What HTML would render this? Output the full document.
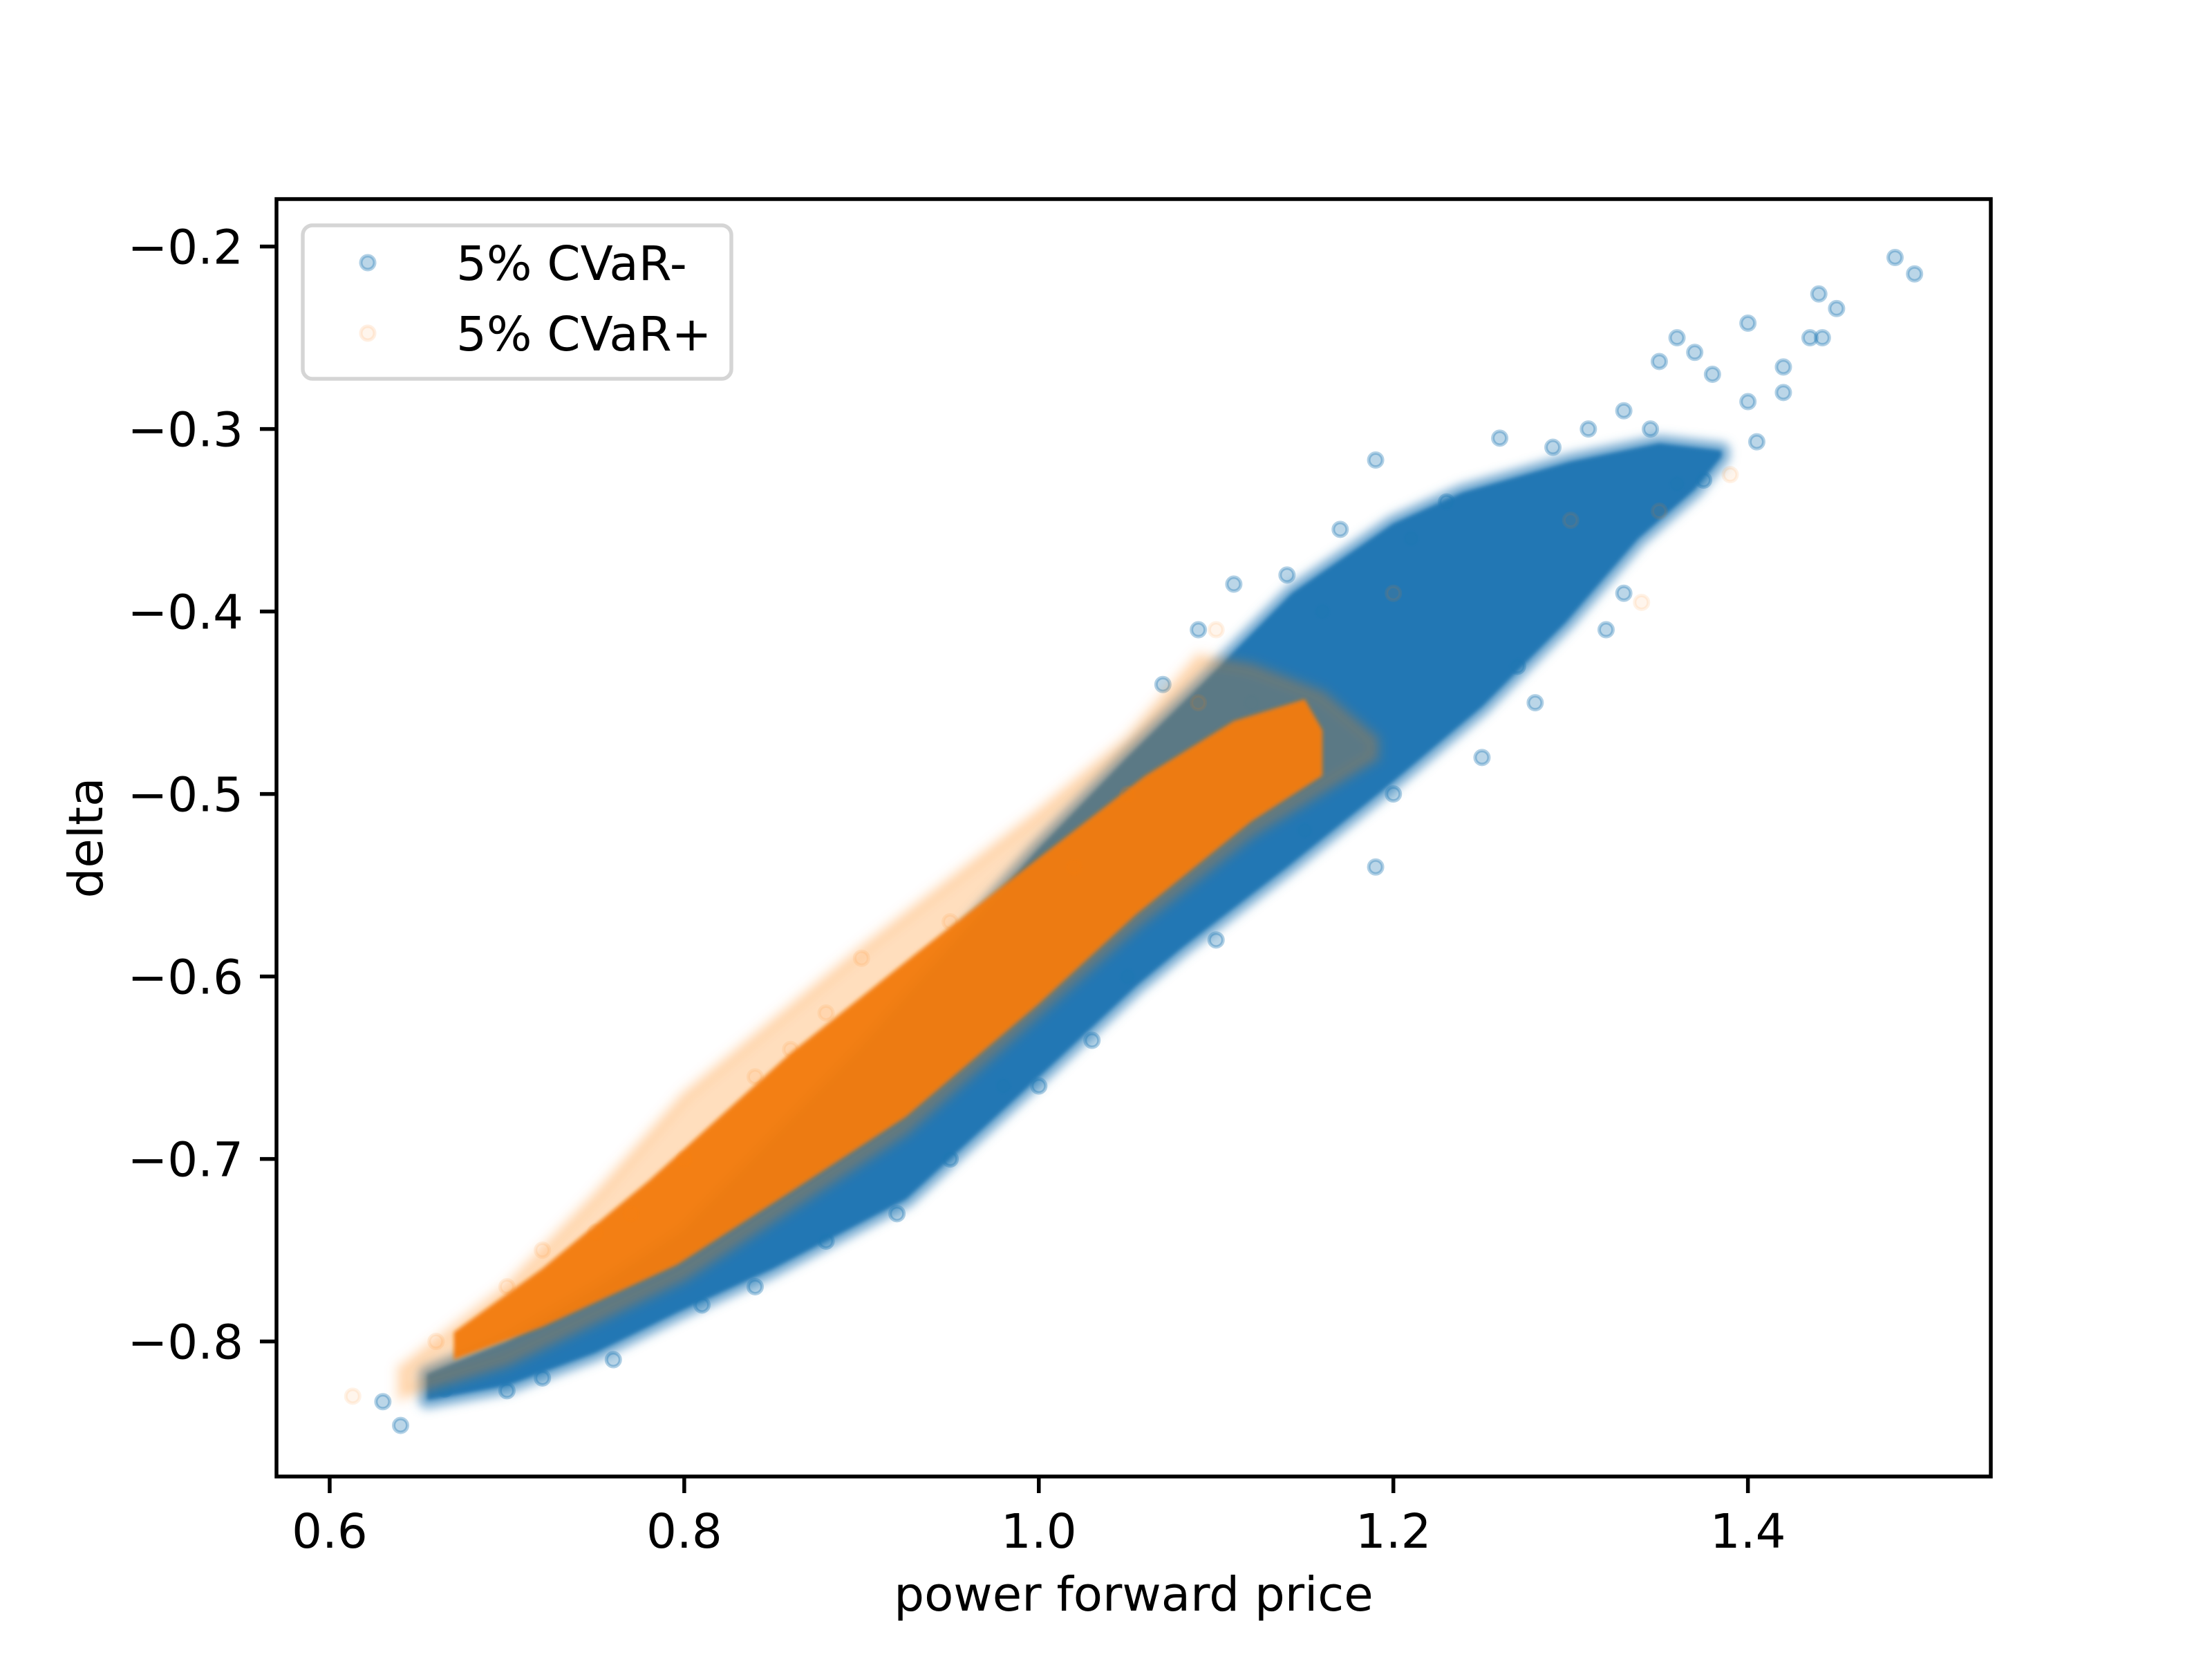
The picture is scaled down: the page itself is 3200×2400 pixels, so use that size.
<!DOCTYPE html>
<html><head><meta charset="utf-8"><style>
body{margin:0;background:#fff}
svg{display:block}
text{font-family:"DejaVu Sans","Liberation Sans",sans-serif;font-size:69px;fill:#000}
</style></head><body>
<svg id="chart" width="3200" height="2400" viewBox="0 0 3200 2400" xmlns="http://www.w3.org/2000/svg">
<defs>
<filter id="soft" x="-10%" y="-10%" width="120%" height="120%"><feGaussianBlur stdDeviation="7"/></filter>
<filter id="soft2" x="-10%" y="-10%" width="120%" height="120%"><feGaussianBlur stdDeviation="3"/></filter>
</defs>
<rect width="3200" height="2400" fill="#fff"/>
<g id="plot"></g>
<g id="axes"></g>
</svg>
<script>
// ---- data ----
const xTicks = [0.6, 0.8, 1.0, 1.2, 1.4];
const xTickLabels = ["0.6", "0.8", "1.0", "1.2", "1.4"];
const yTicks = [-0.2, -0.3, -0.4, -0.5, -0.6, -0.7, -0.8];
const yTickLabels = ["\u22120.2", "\u22120.3", "\u22120.4", "\u22120.5", "\u22120.6", "\u22120.7", "\u22120.8"];
// blue (CVaR-) dense cloud envelope
const blueLowX = [0.655, 0.70, 0.75, 0.796, 0.85, 0.925, 1.0, 1.055, 1.081, 1.14, 1.195, 1.25, 1.297, 1.338, 1.37, 1.385];
const blueLowY = [-0.832, -0.824, -0.806, -0.784, -0.76, -0.722, -0.655, -0.605, -0.584, -0.54, -0.497, -0.452, -0.406, -0.36, -0.333, -0.315];
const blueHighX = [0.655, 0.70, 0.75, 0.80, 0.90, 1.0, 1.05, 1.092, 1.143, 1.20, 1.239, 1.30, 1.35, 1.385];
const blueHighY = [-0.818, -0.80, -0.772, -0.74, -0.64, -0.53, -0.48, -0.44, -0.39, -0.352, -0.335, -0.318, -0.308, -0.312];
// orange (CVaR+) dense core
const orCoreLowX = [0.67, 0.72, 0.796, 0.86, 0.925, 1.0, 1.055, 1.12, 1.16];
const orCoreLowY = [-0.81, -0.792, -0.758, -0.718, -0.677, -0.615, -0.566, -0.515, -0.49];
const orCoreHighX = [0.67, 0.72, 0.78, 0.86, 0.93, 1.0, 1.06, 1.11, 1.15, 1.16];
const orCoreHighY = [-0.795, -0.76, -0.712, -0.642, -0.588, -0.535, -0.49, -0.46, -0.448, -0.465];
// orange faint halo
const orHaloHighX = [0.64, 0.70, 0.75, 0.80, 0.90, 1.00, 1.05, 1.09, 1.12, 1.16, 1.19];
const orHaloHighY = [-0.815, -0.77, -0.72, -0.665, -0.585, -0.51, -0.47, -0.425, -0.43, -0.445, -0.47];
const orHaloLowX = [0.64, 0.70, 0.80, 0.925, 1.055, 1.12, 1.19];
const orHaloLowY = [-0.83, -0.812, -0.765, -0.685, -0.572, -0.522, -0.48];
// individual outlier points
const blueOutX = [1.483, 1.494, 1.44, 1.45, 1.435, 1.442, 1.40, 1.36, 1.37, 1.42, 1.35, 1.38, 1.40, 1.42, 1.405, 1.33, 1.345, 1.375, 1.26, 1.19, 1.17, 1.14, 1.11, 1.09, 1.07, 1.12, 1.15, 1.19, 1.20, 1.25, 1.28, 1.32, 0.63, 0.64, 0.665, 0.72, 0.81, 0.92, 1.0, 1.05, 0.88, 0.98, 1.23, 1.29, 1.31, 1.16, 1.21, 0.70, 0.76, 0.84, 0.95, 1.03, 1.10, 1.36, 1.33, 1.27];
const blueOutY = [-0.206, -0.215, -0.226, -0.234, -0.25, -0.25, -0.242, -0.25, -0.258, -0.266, -0.263, -0.27, -0.285, -0.28, -0.307, -0.29, -0.30, -0.328, -0.305, -0.317, -0.355, -0.38, -0.385, -0.41, -0.44, -0.45, -0.52, -0.54, -0.50, -0.48, -0.45, -0.41, -0.833, -0.846, -0.826, -0.82, -0.78, -0.73, -0.66, -0.60, -0.745, -0.66, -0.34, -0.31, -0.30, -0.40, -0.36, -0.827, -0.81, -0.77, -0.70, -0.635, -0.58, -0.33, -0.39, -0.43];
const orOutX = [0.613, 0.66, 0.70, 0.77, 0.80, 0.88, 0.90, 1.02, 1.05, 1.09, 1.10, 1.20, 1.34, 1.39, 1.35, 1.30, 0.75, 0.84, 0.72, 0.86, 0.95];
const orOutY = [-0.83, -0.80, -0.77, -0.73, -0.70, -0.62, -0.59, -0.54, -0.50, -0.45, -0.41, -0.39, -0.395, -0.325, -0.345, -0.35, -0.74, -0.655, -0.75, -0.64, -0.57];

// ---- scales ----
const L = 400, R = 2880, T = 288, B = 2136;
const xMin = 0.570, xMax = 1.537, yMin = -0.874, yMax = -0.174;
const sx = v => L + (v - xMin) / (xMax - xMin) * (R - L);
const sy = v => B - (v - yMin) / (yMax - yMin) * (B - T);
const NS = "http://www.w3.org/2000/svg";
const plot = document.getElementById('plot');
const axes = document.getElementById('axes');
function mk(tag, attrs, parent) {
  const e = document.createElementNS(NS, tag);
  for (const k in attrs) e.setAttribute(k, attrs[k]);
  parent.appendChild(e);
  return e;
}
function band(hx, hy, lx, ly) {
  let d = "";
  hx.forEach((x, i) => { d += (i ? "L" : "M") + sx(x).toFixed(1) + "," + sy(hy[i]).toFixed(1); });
  for (let i = lx.length - 1; i >= 0; i--) d += "L" + sx(lx[i]).toFixed(1) + "," + sy(ly[i]).toFixed(1);
  return d + "Z";
}
const clip = mk('clipPath', {id: 'clipA'}, plot);
mk('rect', {x: L, y: T, width: R - L, height: B - T}, clip);
const g = mk('g', {'clip-path': 'url(#clipA)'}, plot);

// blue cloud
const bRim = mk('path', {d: band(blueHighX, blueHighY, blueLowX, blueLowY), fill: '#3a88bd', stroke: '#4f93c4', 'stroke-width': 26, 'stroke-linejoin': 'round', 'stroke-opacity': 0.7, filter: 'url(#soft)'}, g);


const bh = mk('path', {d: band(blueHighX, blueHighY, blueLowX, blueLowY), fill: '#2077b4', filter: 'url(#soft2)'}, g);


blueOutX.forEach((x, i) => {
  const c = mk('circle', {cx: sx(x), cy: sy(blueOutY[i]), r: 10, fill: '#1f77b4', 'fill-opacity': 0.3, stroke: '#1f77b4', 'stroke-opacity': 0.35, 'stroke-width': 5}, g);
  
  
});
// orange halo + core
const oh = mk('path', {d: band(orHaloHighX, orHaloHighY, orHaloLowX, orHaloLowY), fill: '#ff7f0e', 'fill-opacity': 0.26, stroke: '#ff7f0e', 'stroke-opacity': 0.12, 'stroke-width': 20, 'stroke-linejoin': 'round', filter: 'url(#soft)'}, g);


const oc = mk('path', {d: band(orCoreHighX, orCoreHighY, orCoreLowX, orCoreLowY), fill: '#f27c0f', 'fill-opacity': 0.96, filter: 'url(#soft2)'}, g);


orOutX.forEach((x, i) => {
  const c = mk('circle', {cx: sx(x), cy: sy(orOutY[i]), r: 10, fill: '#ff7f0e', 'fill-opacity': 0.08, stroke: '#ff7f0e', 'stroke-opacity': 0.1, 'stroke-width': 5}, g);
  
  
});

// frame
const fr = mk('rect', {x: L, y: T, width: R - L, height: B - T, fill: 'none', stroke: '#000', 'stroke-width': 5.5}, axes);


// x ticks
xTicks.forEach((v, i) => {
  const x = sx(v);
  const t = mk('line', {x1: x, x2: x, y1: B, y2: B + 24, stroke: '#000', 'stroke-width': 5.5}, axes);
  
  
  const lb = mk('text', {x: x, y: B + 103, 'text-anchor': 'middle'}, axes);
  lb.textContent = xTickLabels[i];
  
  
});
// y ticks
yTicks.forEach((v, i) => {
  const y = sy(v);
  const t = mk('line', {x1: L - 24, x2: L, y1: y, y2: y, stroke: '#000', 'stroke-width': 5.5}, axes);
  
  
  const lb = mk('text', {x: L - 48, y: y + 25, 'text-anchor': 'end'}, axes);
  lb.textContent = yTickLabels[i];
  
  
});
</script>
<svg style="position:absolute;left:0;top:0" width="3200" height="2400" xmlns="http://www.w3.org/2000/svg">
<text x="1640" y="2330" text-anchor="middle">power forward price</text>
<text transform="translate(148,1212) rotate(-90)" text-anchor="middle">delta</text>
<g>
<rect x="438" y="326" width="620" height="222" rx="14" fill="#fff" fill-opacity="0.8" stroke="#d5d5d5" stroke-width="5.5"/>
<circle cx="532" cy="380" r="10" fill="#1f77b4" fill-opacity="0.3" stroke="#1f77b4" stroke-opacity="0.35" stroke-width="5"/>
<text x="660" y="405">5% CVaR-</text>
<circle cx="532" cy="482" r="10" fill="#ff7f0e" fill-opacity="0.08" stroke="#ff7f0e" stroke-opacity="0.12" stroke-width="5"/>
<text x="660" y="507">5% CVaR+</text>
</g>
</svg>
</body></html>
